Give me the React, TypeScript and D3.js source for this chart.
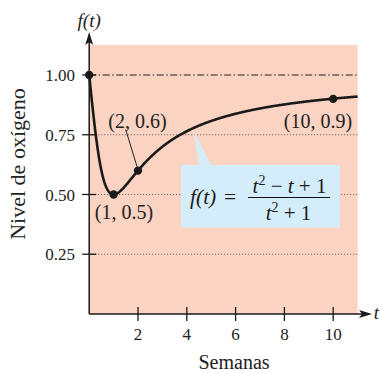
import React from "react";
import * as d3 from "d3";

const xTicks = [2, 4, 6, 8, 10];
const yTicks = [0.25, 0.5, 0.75, 1.0];
const yTickLabels = ["0.25", "0.50", "0.75", "1.00"];
const pointT = [0, 1, 2, 10];
const pointV = [1, 0.5, 0.6, 0.9];
const pointLabels = ["", "(1, 0.5)", "(2, 0.6)", "(10, 0.9)"];
const oxygen = (t: number) => (t * t - t + 1) / (t * t + 1);

const W = 380, H = 374;
const FONT = "'Liberation Serif', 'Times New Roman', serif";

export default function App() {
  const x = d3.scaleLinear().domain([0, 11]).range([89.2, 357.6]);
  const y = d3.scaleLinear().domain([0, 1]).range([314, 75]);
  const samples = d3.range(0, 11.0001, 0.02);
  const line = d3.line<number>().x((t) => x(t)).y((t) => y(oxygen(t))).curve(d3.curveLinear);
  const x0 = x(0), y0 = y(0);
  const tipT = 4.3, tipV = 0.76;
  return (
    <svg width={W} height={H} style={{ position: "absolute", left: 0, top: 0 }} fontFamily={FONT}>
      <rect x={0} y={0} width={W} height={H} fill="#fff" />
      <rect x={x0} y={y(1.126)} width={x(11) - x0} height={y0 - y(1.126)} fill="#fbd3c2" />
      {/* gridlines */}
      {yTicks.map((v) =>
        v === 1 ? (
          <line key={v} x1={x0} x2={x(11)} y1={y(v)} y2={y(v)} stroke="#222" strokeWidth={1} strokeDasharray="7,2.5,1.5,2.5" />
        ) : (
          <line key={v} x1={x0} x2={x(11)} y1={y(v)} y2={y(v)} stroke="#555" strokeWidth={1} strokeDasharray="1,2" />
        )
      )}
      {/* callout */}
      <path d={`M${x(tipT)},${y(tipV)} L${x(4.5)},165 L${x(5)},165 Z`} fill="#d3eefa" />
      <rect x={181} y={165} width={159} height={62.5} fill="#d3eefa" />
      <text x={190} y={204} fontSize={21.5} fontStyle="italic" fill="#1a1a1a">f(t)</text>
      <text x={224} y={204} fontSize={21.5} fill="#1a1a1a">=</text>
      <text x={289.5} y={192.5} fontSize={21} textAnchor="middle" fill="#1a1a1a">
        <tspan fontStyle="italic">t</tspan>
        <tspan fontSize={14} dy={-8}>2</tspan>
        <tspan dy={8}> − </tspan>
        <tspan fontStyle="italic">t</tspan>
        <tspan> + 1</tspan>
      </text>
      <line x1={248} x2={330} y1={197.5} y2={197.5} stroke="#111" strokeWidth={1.2} />
      <text x={288.5} y={219.5} fontSize={21} textAnchor="middle" fill="#1a1a1a">
        <tspan fontStyle="italic">t</tspan>
        <tspan fontSize={14} dy={-8}>2</tspan>
        <tspan dy={8}> + 1</tspan>
      </text>
      {/* curve */}
      <path d={line(samples) || ""} fill="none" stroke="#1a1a1a" strokeWidth={2.6} strokeLinejoin="round" />
      {/* leader */}
      <line x1={125.7} y1={129.5} x2={x(2) - 1} y2={y(0.6) - 4} stroke="#222" strokeWidth={1} />
      {/* points */}
      {pointT.map((t, i) => (
        <circle key={t} cx={x(t)} cy={y(pointV[i])} r={4.2} fill="#1a1a1a" />
      ))}
      <text x={124} y={219} fontSize={20} textAnchor="middle" fill="#222">{pointLabels[1]}</text>
      <text x={137.5} y={128} fontSize={20} textAnchor="middle" fill="#222">{pointLabels[2]}</text>
      <text x={318} y={128} fontSize={20} textAnchor="middle" fill="#222">{pointLabels[3]}</text>
      {/* axes */}
      <line x1={x0} x2={x0} y1={y0} y2={40} stroke="#1a1a1a" strokeWidth={1.5} />
      <path d={`M${x0},32 L${x0 + 4},45 L${x0},42 L${x0 - 4},45 Z`} fill="#1a1a1a" />
      <line x1={x0} x2={364} y1={y0} y2={y0} stroke="#1a1a1a" strokeWidth={1.5} />
      <path d={`M372,${y0} L359,${y0 - 4} L362,${y0} L359,${y0 + 4} Z`} fill="#1a1a1a" />
      {yTicks.map((v, i) => (
        <g key={v}>
          <line x1={x0 - 7} x2={x0 + 7} y1={y(v)} y2={y(v)} stroke="#1a1a1a" strokeWidth={1.3} />
          <text x={75} y={y(v) + 6} fontSize={17} textAnchor="end" fill="#222">{yTickLabels[i]}</text>
        </g>
      ))}
      {xTicks.map((t) => (
        <g key={t}>
          <line x1={x(t)} x2={x(t)} y1={y0 - 7} y2={y0 + 7} stroke="#1a1a1a" strokeWidth={1.3} />
          <text x={x(t)} y={339.5} fontSize={17} textAnchor="middle" fill="#222">{t}</text>
        </g>
      ))}
      <text x={x0} y={26.5} fontSize={19} fontStyle="italic" textAnchor="middle" fill="#222">f(t)</text>
      <text x={376.5} y={319} fontSize={19} fontStyle="italic" textAnchor="middle" fill="#222">t</text>
      <text x={234} y={369} fontSize={20} textAnchor="middle" fill="#222">Semanas</text>
      <text transform={`translate(24.5,164) rotate(-90)`} fontSize={22} textAnchor="middle" fill="#222">Nivel de oxígeno</text>
    </svg>
  );
}
